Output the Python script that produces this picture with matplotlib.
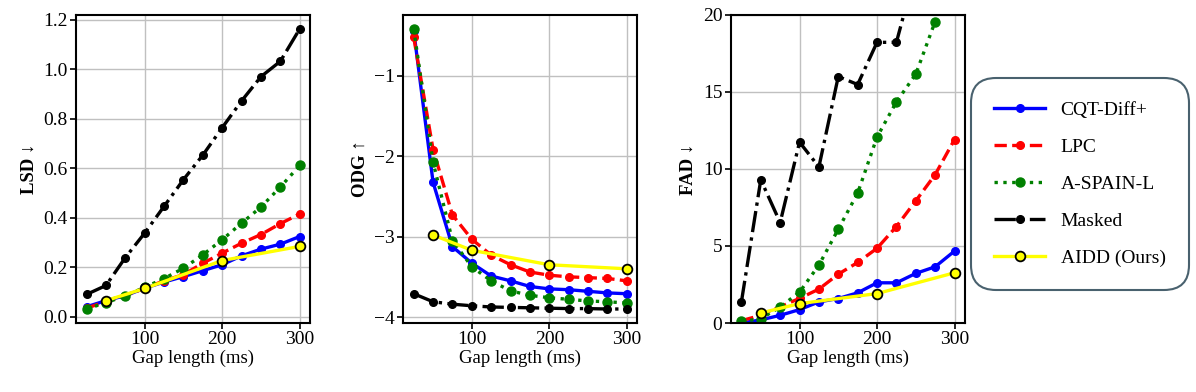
import numpy as np
import matplotlib
matplotlib.use("Agg")
import matplotlib.pyplot as plt

plt.rcParams['font.family'] = ['Liberation Serif', 'DejaVu Serif']

gaps = [25, 50, 75, 100, 125, 150, 175, 200, 225, 250, 275, 300]
aidd_gaps = [50, 100, 200, 300]

# LSD
lsd_cqt = [0.04, 0.065, 0.085, 0.115, 0.14, 0.162, 0.186, 0.21, 0.246, 0.273, 0.293, 0.324]
lsd_lpc = [0.035, 0.06, 0.085, 0.115, 0.145, 0.17, 0.216, 0.257, 0.297, 0.332, 0.376, 0.415]
lsd_spain = [0.031, 0.057, 0.084, 0.119, 0.154, 0.196, 0.25, 0.311, 0.378, 0.443, 0.524, 0.611]
lsd_masked = [0.09, 0.126, 0.239, 0.338, 0.446, 0.554, 0.653, 0.764, 0.872, 0.970, 1.032, 1.163]
lsd_aidd = [0.065, 0.114, 0.227, 0.284]

# ODG
odg_cqt = [-0.44, -2.325, -3.125, -3.33, -3.49, -3.55, -3.62, -3.65, -3.66, -3.68, -3.70, -3.71]
odg_lpc = [-0.52, -1.917, -2.73, -3.033, -3.23, -3.35, -3.44, -3.48, -3.50, -3.51, -3.52, -3.55]
odg_spain = [-0.417, -2.075, -3.05, -3.375, -3.55, -3.675, -3.73, -3.76, -3.78, -3.80, -3.81, -3.825]
odg_masked = [-3.71, -3.81, -3.84, -3.86, -3.875, -3.88, -3.885, -3.89, -3.895, -3.895, -3.9, -3.9]
odg_aidd = [-2.98, -3.17, -3.35, -3.40]

# FAD
fad_cqt = [0.0, 0.2, 0.5, 0.87, 1.37, 1.59, 1.96, 2.61, 2.61, 3.22, 3.65, 4.67]
fad_lpc = [0.15, 0.5, 1.05, 1.6, 2.2, 3.17, 3.93, 4.85, 6.26, 7.93, 9.63, 11.91]
fad_spain = [0.1, 0.28, 1.04, 2.0, 3.76, 6.09, 8.43, 12.07, 14.35, 16.15, 19.57, 22.5]
fad_masked = [1.37, 9.3, 6.52, 11.74, 10.13, 16.0, 15.48, 18.22, 18.22, 22.9, 25.0, 27.5]
fad_aidd = [0.65, 1.26, 1.91, 3.26]

fig = plt.figure(figsize=(11.96, 3.92), dpi=100)
lefts = [0.0635, 0.337, 0.611]
axes = [fig.add_axes([l, 0.176, 0.196, 0.786]) for l in lefts]

panels = [
    (lsd_cqt, lsd_lpc, lsd_spain, lsd_masked, lsd_aidd, "LSD ↓", None),
    (odg_cqt, odg_lpc, odg_spain, odg_masked, odg_aidd, "ODG ↑", None),
    (fad_cqt, fad_lpc, fad_spain, fad_masked, fad_aidd, "FAD ↓", (0, 20)),
]

lw = 2.4
for ax, (cqt, lpc, spain, masked, aidd, ylabel, ylim) in zip(axes, panels):
    ax.plot(gaps, cqt, "o-", color="blue", lw=lw, ms=5.5, label="CQT-Diff+")
    ax.plot(gaps, lpc, "o--", color="red", lw=lw, ms=5.5, label="LPC")
    ax.plot(gaps, spain, "o:", color="green", lw=lw, ms=6.5, label="A-SPAIN-L")
    ax.plot(gaps, masked, "o-.", color="black", lw=lw, ms=5.5, label="Masked")
    ax.plot(aidd_gaps, aidd, "o-", color="yellow", lw=lw, ms=7,
            markerfacecolor="yellow", markeredgecolor="black", markeredgewidth=1.3,
            label="AIDD (Ours)")
    if ylim is not None:
        ax.set_ylim(*ylim)
    ax.set_xticks([100, 200, 300])
    ax.grid(True, color="#c0c0c0", lw=1.0)
    ax.set_axisbelow(True)
    ax.set_xlabel("Gap length (ms)", fontsize=13.5, labelpad=1)
    ax.set_ylabel(ylabel, fontsize=13.5, fontweight="bold")
    ax.tick_params(labelsize=14, width=1.2, length=4, pad=2)
    for s in ax.spines.values():
        s.set_linewidth(1.5)

axes[1].set_yticks([-1, -2, -3, -4])
axes[1].set_yticklabels(["\u22121", "\u22122", "\u22123", "\u22124"])
axes[2].set_yticks([0, 5, 10, 15, 20])

handles, labels = axes[0].get_legend_handles_labels()
leg = fig.legend(handles, labels, loc="center", bbox_to_anchor=(0.903, 0.531),
                 fontsize=14, labelspacing=1.0, handlelength=2.6, handletextpad=0.8,
                 borderpad=1.2, frameon=True, fancybox=True)
frame = leg.get_frame()
frame.set_edgecolor("#1c3a4a")
frame.set_linewidth(1.5)
frame.set_boxstyle("round", pad=0, rounding_size=1.3)

fig.savefig("out.png", dpi=100)
